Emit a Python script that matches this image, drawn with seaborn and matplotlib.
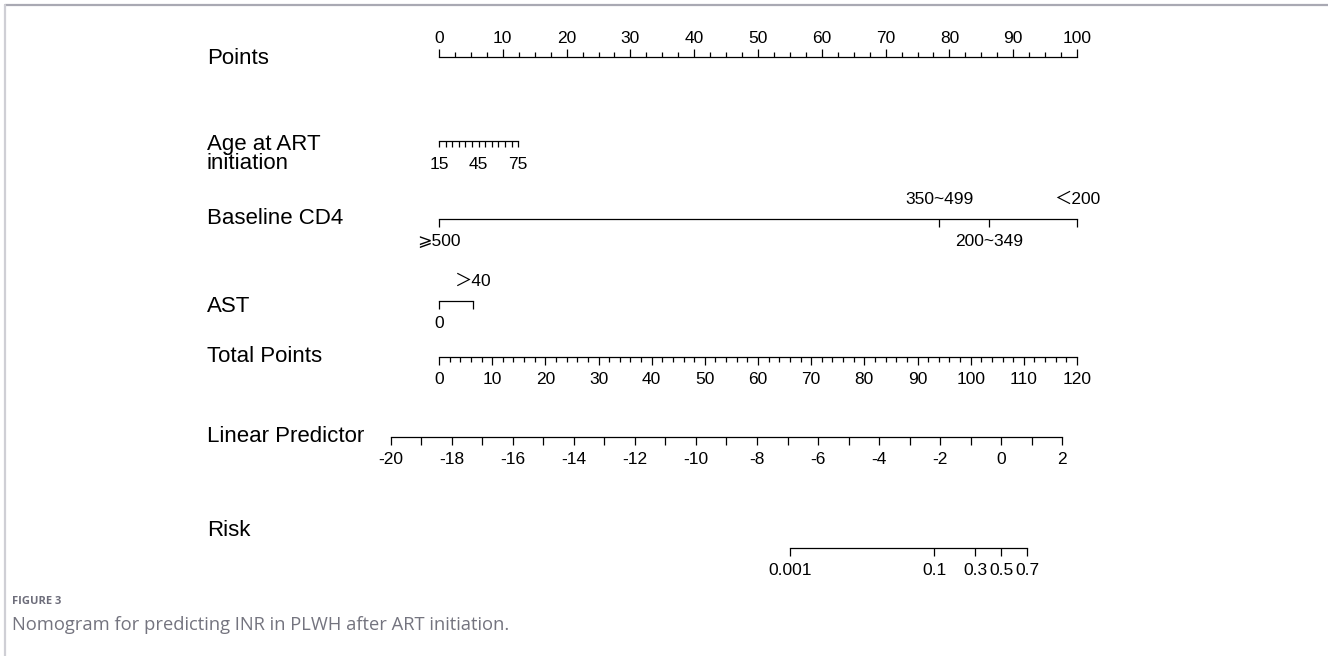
import numpy as np
import matplotlib
matplotlib.use("Agg")
import matplotlib.pyplot as plt
import seaborn as sns
from matplotlib.lines import Line2D
from matplotlib.ticker import FixedLocator, MultipleLocator

# ---------------- data ----------------
points_major = list(range(0, 101, 10))
points_minor_step = 2.5
age_labels = [15, 45, 75]
age_range = [15, 75]
age_minor_step = 5
age_points_at_max = 12.4          # points given to age 75 (age 15 -> 0)
cd4_labels = ["\u2a7e500", "350~499", "200~349", "\uff1c200"]
cd4_points = [0, 78.4, 86.2, 100]
cd4_above = [False, True, False, True]
ast_labels = ["0", "\uff1e40"]
ast_points = [0, 5.3]
ast_above = [False, True]
total_major = list(range(0, 121, 10))
total_minor_step = 2
lp_labels = list(range(-20, 3, 2))
lp_minor_step = 1
risk_values = [0.001, 0.1, 0.3, 0.5, 0.7]
risk_labels = ["0.001", "0.1", "0.3", "0.5", "0.7"]
row_names = ["Points", "Age at ART\ninitiation", "Baseline CD4", "AST",
             "Total Points", "Linear Predictor", "Risk"]
caption_head = "FIGURE 3"
caption_text = "Nomogram for predicting INR in PLWH after ART initiation."

# ---------------- layout (pixels) ----------------
W, H = 1328, 656
FX0, FX1 = 439, 1077          # points frame
LX0, LX1 = 390.5, 1062.4      # linear predictor frame (-20 .. 2)
row_line_y = [57, 141, 219, 301, 357, 437, 548]
row_label_y = [59, 154, 218, 306, 357, 437, 531]
LABEL_X = 207
TICK_FS = 12.5
ROW_FS = 16

sns.set_theme(style="white")
plt.rcParams["font.family"] = ["Liberation Sans", "Noto Sans CJK SC", "DejaVu Sans"]
plt.rcParams["axes.linewidth"] = 0.9

fig = plt.figure(figsize=(W / 100, H / 100), dpi=100)
fig.patch.set_facecolor("white")


def make_axes(x0, x1, y, top=False):
    h = 10
    if top:
        rect = [x0 / W, 1 - y / H - h / H, (x1 - x0) / W, h / H]
    else:
        rect = [x0 / W, 1 - y / H, (x1 - x0) / W, h / H]
    ax = fig.add_axes(rect)
    ax.set_facecolor("none")
    ax.set_yticks([])
    ax.grid(False)
    sns.despine(ax=ax, left=True, right=True, top=not top, bottom=top)
    spine = ax.spines["top" if top else "bottom"]
    spine.set_color("black")
    spine.set_linewidth(0.9)
    if top:
        ax.xaxis.tick_top()
    ax.tick_params(axis="x", which="both", bottom=not top, top=top,
                   labelbottom=not top, labeltop=top)
    ax.tick_params(axis="x", which="major", direction="out", length=6,
                   width=0.9, color="black", labelsize=TICK_FS,
                   labelcolor="black")
    ax.tick_params(axis="x", which="minor", direction="out", length=3.5,
                   width=0.9, color="black")
    return ax


def annotate_above(ax, v, text, off=14):
    ax.annotate(text, xy=(v, 0), xycoords=("data", "axes fraction"),
                xytext=(0, off), textcoords="offset points",
                ha="center", va="center", fontsize=TICK_FS, color="black")


# Points
ax = make_axes(FX0, FX1, row_line_y[0], top=True)
ax.set_xlim(points_major[0], points_major[-1])
ax.spines["top"].set_bounds(points_major[0], points_major[-1])
ax.set_xticks(points_major)
ax.set_xticklabels([str(v) for v in points_major])
ax.xaxis.set_minor_locator(MultipleLocator(points_minor_step))
ax.tick_params(axis="x", which="major", pad=2)

# Age
age_per_point = (age_range[1] - age_range[0]) / age_points_at_max
ax = make_axes(FX0, FX1, row_line_y[1])
ax.set_xlim(age_range[0], age_range[0] + 100 * age_per_point)
ax.spines["bottom"].set_bounds(age_range[0], age_range[1])
ax.set_xticks(age_labels)
ax.set_xticklabels([str(v) for v in age_labels])
ax.xaxis.set_minor_locator(FixedLocator(
    np.arange(age_range[0], age_range[1] + 0.1, age_minor_step)))
ax.tick_params(axis="x", which="major", length=4.5, pad=7)
ax.tick_params(axis="x", which="minor", length=4.5)

# Baseline CD4
ax = make_axes(FX0, FX1, row_line_y[2])
ax.set_xlim(0, 100)
ax.spines["bottom"].set_bounds(min(cd4_points), max(cd4_points))
ax.set_xticks(cd4_points)
ax.set_xticklabels([("" if a else l) for l, a in zip(cd4_labels, cd4_above)])
ax.tick_params(axis="x", which="major", length=6, pad=5)
for v, l, a in zip(cd4_points, cd4_labels, cd4_above):
    if a:
        annotate_above(ax, v, l, off=14)

# AST
ax = make_axes(FX0, FX1, row_line_y[3])
ax.set_xlim(0, 100)
ax.spines["bottom"].set_bounds(min(ast_points), max(ast_points))
ax.set_xticks(ast_points)
ax.set_xticklabels([("" if a else l) for l, a in zip(ast_labels, ast_above)])
ax.tick_params(axis="x", which="major", length=6, pad=5)
for v, l, a in zip(ast_points, ast_labels, ast_above):
    if a:
        annotate_above(ax, v, l, off=14)

# Total Points
ax = make_axes(FX0, FX1, row_line_y[4])
ax.set_xlim(total_major[0], total_major[-1])
ax.spines["bottom"].set_bounds(total_major[0], total_major[-1])
ax.set_xticks(total_major)
ax.set_xticklabels([str(v) for v in total_major])
ax.xaxis.set_minor_locator(MultipleLocator(total_minor_step))
ax.tick_params(axis="x", which="major", pad=5)

# Linear Predictor
ax = make_axes(LX0, LX1, row_line_y[5])
ax.set_xlim(lp_labels[0], lp_labels[-1])
ax.spines["bottom"].set_bounds(lp_labels[0], lp_labels[-1])
ax.set_xticks(lp_labels)
ax.set_xticklabels([str(v) for v in lp_labels])
ax.xaxis.set_minor_locator(MultipleLocator(lp_minor_step))
ax.tick_params(axis="x", which="minor", length=6)
ax.tick_params(axis="x", which="major", pad=5)

# Risk (on the linear predictor scale, logit transform)
risk_pos = [np.log(p / (1 - p)) for p in risk_values]
ax = make_axes(LX0, LX1, row_line_y[6])
ax.set_xlim(lp_labels[0], lp_labels[-1])
ax.spines["bottom"].set_bounds(risk_pos[0], risk_pos[-1])
ax.set_xticks(risk_pos)
ax.set_xticklabels(risk_labels)
ax.tick_params(axis="x", which="major", pad=5)

# Row names
for name, y in zip(row_names, row_label_y):
    fig.text(LABEL_X / W, 1 - y / H, name, ha="left", va="center",
             fontsize=ROW_FS, color="black", linespacing=0.9)

# Caption
fig.text(12 / W, 1 - 602 / H, caption_head, ha="left", va="center",
         fontsize=8, fontweight="bold", color="#6d6d7a",
         family=["Open Sans", "DejaVu Sans"])
fig.text(12 / W, 1 - 625 / H, caption_text, ha="left", va="center",
         fontsize=13.2, color="#74747f", family=["Open Sans", "DejaVu Sans"])

# Page frame decoration
fig.add_artist(Line2D([5 / W, 1], [1 - 5 / H, 1 - 5 / H], color="#a9a9b3",
                      lw=1.6, transform=fig.transFigure))
fig.add_artist(Line2D([5 / W, 5 / W], [1 - 5 / H, 0], color="#cfcfd5",
                      lw=1.6, transform=fig.transFigure))

fig.savefig("out.png", dpi=100, facecolor="white")
